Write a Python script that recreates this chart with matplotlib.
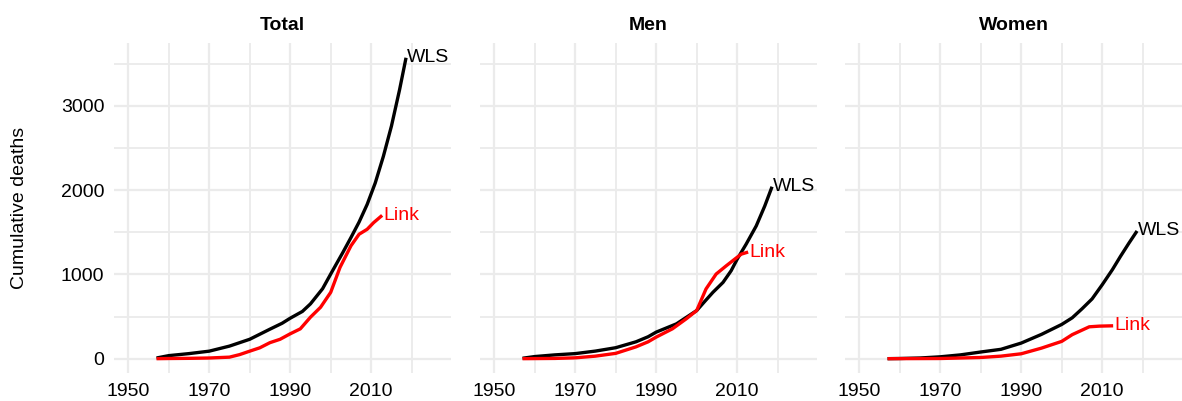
import matplotlib
matplotlib.use("Agg")
import matplotlib.pyplot as plt

plt.rcParams['font.family'] = ['Liberation Sans', 'DejaVu Sans']

# ---- data --------------------------------------------------------------
total_wls_yr = [1957, 1960, 1965, 1970, 1975, 1980, 1985, 1988, 1990, 1993, 1995,
                1998, 2000, 2003, 2005, 2007, 2009, 2011, 2013, 2015, 2017, 2018.6]
total_wls = [8, 36, 60, 89, 149, 230, 350, 420, 480, 560, 650,
             830, 1004, 1260, 1437, 1620, 1830, 2085, 2400, 2760, 3190, 3570]
total_link_yr = [1957, 1960, 1965, 1970, 1975, 1977.5, 1980, 1982.5, 1985, 1987.5, 1990,
                 1992.5, 1995, 1997.5, 2000, 2002.3, 2005, 2007, 2009, 2010.6, 2012.7]
total_link = [0, 2, 4, 8, 18, 48, 89, 129, 190, 230, 295,
              354, 492, 610, 787, 1083, 1339, 1476, 1535, 1614, 1700]

men_wls_yr = [1957, 1960, 1965, 1970, 1975, 1980, 1985, 1988, 1990, 1995, 2000,
              2002, 2004, 2006.5, 2008.5, 2010, 2012.2, 2014.7, 2016.8, 2018.6]
men_wls = [5, 25, 45, 60, 90, 130, 200, 260, 315, 413, 571,
           680, 787, 905, 1043, 1181, 1358, 1575, 1811, 2040]
men_link_yr = [1957, 1965, 1970, 1975, 1980, 1985, 1988, 1990, 1994, 1997.4, 2000,
               2002.3, 2004.8, 2007.3, 2009.4, 2011, 2012.7]
men_link = [0, 3, 10, 30, 63, 140, 200, 256, 354, 472, 571,
            827, 1004, 1102, 1181, 1240, 1265]

women_wls_yr = [1957, 1960, 1965, 1970, 1975, 1980, 1985, 1990, 1995, 2000, 2002.6,
                2005, 2007.5, 2010, 2012.5, 2014.5, 2016.6, 2018.6]
women_wls = [0, 2, 8, 22, 45, 79, 111, 185, 288, 406, 485,
             591, 709, 877, 1055, 1213, 1371, 1515]
women_link_yr = [1957, 1970, 1980, 1985, 1990, 1995, 2000, 2002.6, 2006.8,
                 2009.3, 2012.7]
women_link = [0, 2, 14, 30, 58, 125, 205, 285, 378, 386, 390]

panels = ["Total", "Men", "Women"]
wls_series = [(total_wls_yr, total_wls), (men_wls_yr, men_wls), (women_wls_yr, women_wls)]
link_series = [(total_link_yr, total_link), (men_link_yr, men_link),
               (women_link_yr, women_link)]

x_ticks = [1950, 1970, 1990, 2010]
y_ticks = [0, 1000, 2000, 3000]

# ---- figure --------------------------------------------------------------
W, H = 1182, 401
fig = plt.figure(figsize=(W / 100, H / 100), dpi=100)

lefts = [114, 480, 845]
pw = 337
top, bot = 43, 373
grid_col = '#EBEBEB'
fs = 14

axes = []
for i, name in enumerate(panels):
    ax = fig.add_axes([lefts[i] / W, 1 - bot / H, pw / W, (bot - top) / H])
    axes.append(ax)
    ax.set_xlim(1946.5, 2029.7)
    ax.set_ylim(-170, 3745)
    for s in ax.spines.values():
        s.set_visible(False)
    ax.set_xticks(x_ticks)
    ax.set_xticks([1960, 1980, 2000, 2020], minor=True)
    ax.set_yticks(y_ticks)
    ax.set_yticks([500, 1500, 2500, 3500], minor=True)
    ax.grid(True, which='major', color=grid_col, lw=1.6)
    ax.grid(True, which='minor', color=grid_col, lw=1.3)
    ax.set_axisbelow(True)
    ax.tick_params(which='both', length=0, labelsize=fs, colors='black', pad=7)
    if i > 0:
        ax.set_yticklabels([])
    ax.set_title(name, fontsize=fs, fontweight='bold', pad=9)

    wx, wy = wls_series[i]
    lx, ly = link_series[i]
    ax.plot(wx, wy, color='black', lw=2.4, solid_capstyle='butt', zorder=3)
    ax.plot(lx, ly, color='red', lw=2.4, solid_capstyle='butt', zorder=3)
    ax.text(wx[-1] + 0.2, wy[-1], "WLS", color='black',
            fontsize=fs, ha='left', va='center', clip_on=False)
    ax.text(lx[-1] + 0.2, ly[-1], "Link", color='red',
            fontsize=fs, ha='left', va='center', clip_on=False)

axes[0].set_ylabel("Cumulative deaths", fontsize=fs)
axes[0].yaxis.set_label_coords(-0.255, 0.5)

fig.savefig("out.png", dpi=100)
